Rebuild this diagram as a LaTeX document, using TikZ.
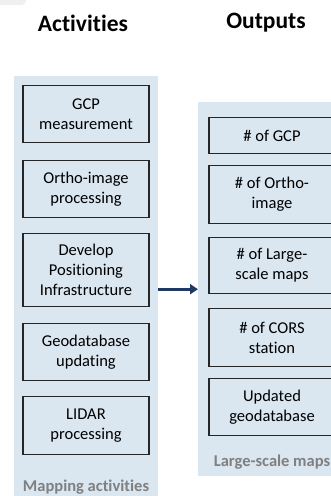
\documentclass[tikz,border=0pt]{standalone}
\usepackage{fontspec}
\setmainfont{Carlito}[Ligatures={NoCommon}]
\usetikzlibrary{arrows.meta}
\definecolor{panel}{HTML}{DAE6F0}
\definecolor{navy}{HTML}{1F3864}
\begin{document}
\begin{tikzpicture}[x=1pt,y=-1pt,
  panelbox/.style={fill=panel, draw=none, inner sep=0pt, anchor=north west},
  itembox/.style={draw=black!85, line width=1.3pt, fill=panel, minimum width=126pt,
    align=center, font=\fontsize{16.5}{20}\selectfont, inner sep=0pt, anchor=north},
  head/.style={font=\fontsize{23.5}{28}\selectfont\bfseries},
  ptitle/.style={font=\fontsize{16.5}{20}\selectfont\bfseries, text=black!50},
  ]
\useasboundingbox (0,0) rectangle (331,496);
\fill[gray!12, rounded corners=4pt] (-10,-10) rectangle (26,5);
\node[head] (hA) at (83,23) {Activities};
\node[head] (hO) at (266,23) {Outputs};
% panels
\node[panelbox, minimum width=144pt, minimum height=420pt] (pA) at (14,76) {};
\node[panelbox, minimum width=148pt, minimum height=374pt] (pO) at (198,102) {};
% activities
\node[itembox, minimum height=57pt] (a1) at (86,85) {GCP\\measurement};
\node[itembox, minimum height=57pt] (a2) at (86,160) {Ortho-image\\processing};
\node[itembox, minimum height=73pt] (a3) at (86,233) {Develop\\Positioning\\Infrastructure};
\node[itembox, minimum height=57pt] (a4) at (86,323) {Geodatabase\\updating};
\node[itembox, minimum height=58pt] (a5) at (86,396) {LIDAR\\processing};
\node[ptitle] (tA) at (86,487) {Mapping activities};
% outputs
\node[itembox, minimum height=36pt] (o1) at (272,117) {\# of GCP};
\node[itembox, minimum height=58pt] (o2) at (272,165) {\# of Ortho-\\image};
\node[itembox, minimum height=56pt] (o3) at (272,237) {\# of Large-\\scale maps};
\node[itembox, minimum height=58pt] (o4) at (272,308) {\# of CORS\\station};
\node[itembox, minimum height=57pt] (o5) at (272,378) {Updated\\geodatabase};
\node[ptitle] (tO) at (272,462) {Large-scale maps};
% arrow
\draw[navy, line width=2.8pt, -{Triangle[length=8pt,width=10pt]}] (pA.east |- pO.west) -- (pO.west);
\end{tikzpicture}
\end{document}
